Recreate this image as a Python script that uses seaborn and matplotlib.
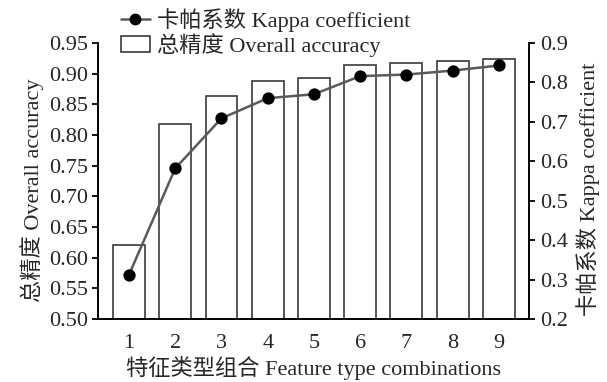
import matplotlib
matplotlib.use("Agg")
import matplotlib.pyplot as plt
from matplotlib.lines import Line2D
from matplotlib.patches import Patch
import seaborn as sns
import pandas as pd

combos = ["1", "2", "3", "4", "5", "6", "7", "8", "9"]
overall_accuracy = [0.621, 0.818, 0.863, 0.888, 0.893, 0.914, 0.917, 0.920, 0.924]
kappa = [0.312, 0.582, 0.709, 0.760, 0.770, 0.816, 0.820, 0.830, 0.843]
left_ticks = [0.50, 0.55, 0.60, 0.65, 0.70, 0.75, 0.80, 0.85, 0.90, 0.95]
right_ticks = [0.2, 0.3, 0.4, 0.5, 0.6, 0.7, 0.8, 0.9]

sns.set_style("white")
FONT = ["Liberation Serif", "Noto Sans CJK SC"]
plt.rcParams["font.family"] = FONT
FS = 16

df = pd.DataFrame({"combo": combos, "oa": overall_accuracy, "kappa": kappa})

fig = plt.figure(figsize=(6.07, 3.82), dpi=100)
ax = fig.add_axes([98/607, 63/382, 431/607, 276/382])

sns.barplot(data=df, x="combo", y="oa", ax=ax, color="white",
            edgecolor="#3a3a3a", linewidth=1.2, width=0.69, saturation=1)
ax.set_ylim(0.50, 0.95)
ax.set_xlim(-0.67, 8.65)
ax.set_yticks(left_ticks)
ax.set_yticklabels([f"{t:.2f}" for t in left_ticks])

ax2 = ax.twinx()
sns.pointplot(data=df, x="combo", y="kappa", ax=ax2, color="#5a5a5a",
              markers="o", linestyles="-", linewidth=1.8, markersize=7.5)
for ln in ax2.lines:
    ln.set_markerfacecolor("black")
    ln.set_markeredgecolor("black")
ax2.set_ylim(0.2, 0.9)
ax2.set_xlim(-0.67, 8.65)
ax2.set_yticks(right_ticks)
ax2.set_yticklabels([f"{t:.1f}" for t in right_ticks])

for a in (ax, ax2):
    for s in a.spines.values():
        s.set_visible(False)
    a.grid(False)
ax.spines["left"].set_visible(True)
ax.spines["bottom"].set_visible(True)
ax2.spines["right"].set_visible(True)
for s in ("left", "bottom"):
    ax.spines[s].set_color("black")
    ax.spines[s].set_linewidth(1.4)
ax2.spines["right"].set_color("black")
ax2.spines["right"].set_linewidth(1.4)

ax.tick_params(axis="y", direction="out", length=4, width=1.3, color="black",
               left=True, labelsize=FS, pad=3)
ax.tick_params(axis="x", direction="in", length=6, width=1.3, color="black",
               bottom=True, labelsize=FS, pad=11)
ax2.tick_params(axis="y", direction="out", length=4, width=1.3, color="black",
                right=True, labelsize=FS, pad=4)

ax.set_xlabel("特征类型组合 Feature type combinations", fontsize=FS, labelpad=2)
ax.set_ylabel("总精度 Overall accuracy", fontsize=FS, labelpad=4)
ax2.set_ylabel("卡帕系数 Kappa coefficient", fontsize=FS, labelpad=6, rotation=90)
ax.yaxis.label.set_y(0.465)
ax2.yaxis.label.set_y(0.47)

handles = [
    Line2D([0], [0], color="#5a5a5a", lw=1.8, marker="o", markersize=7.5,
           markerfacecolor="black", markeredgecolor="black"),
    Patch(facecolor="white", edgecolor="#3a3a3a", linewidth=1.2),
]
labels = ["卡帕系数 Kappa coefficient", "总精度 Overall accuracy"]
fig.legend(handles, labels, loc="upper left", bbox_to_anchor=(121/607, 1 - 8/382),
           frameon=False, fontsize=FS, handlelength=1.3, handletextpad=0.3,
           labelspacing=0.05, borderaxespad=0, borderpad=0)

fig.savefig("out.png", dpi=100)
